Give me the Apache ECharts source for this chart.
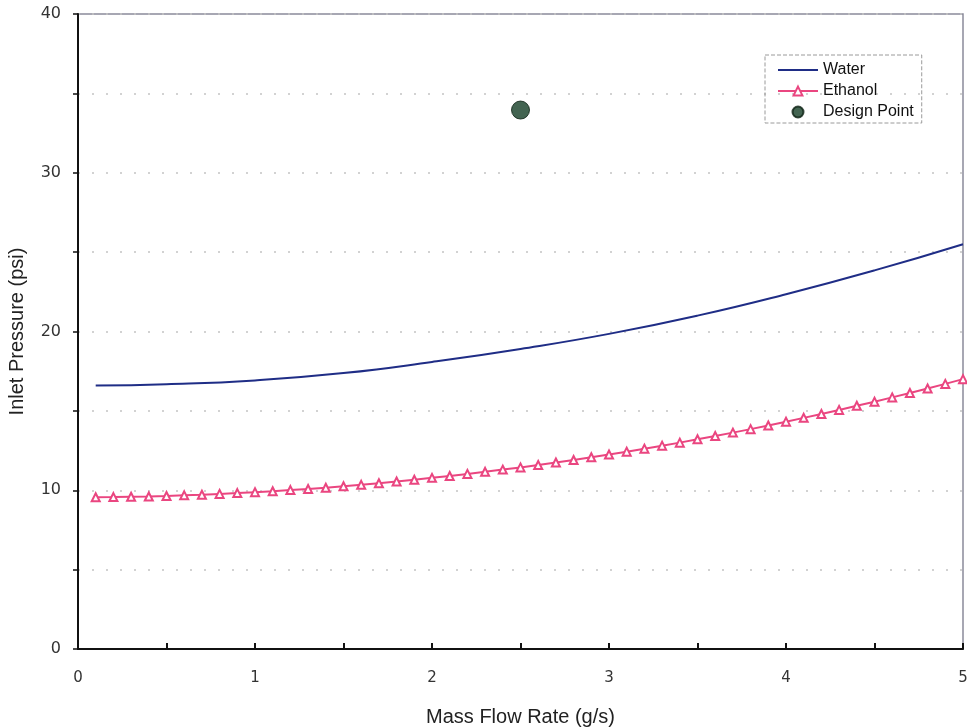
<!DOCTYPE html>
<html><head><meta charset="utf-8">
<script src="https://cdn.jsdelivr.net/npm/echarts@6/dist/echarts.min.js"></script>
<style>html,body{margin:0;padding:0;background:#fff}#c{width:967px;height:727px}</style>
</head><body><div id="c"></div>
<script>
var waterX = [0.1, 0.5, 1.0, 1.5, 2.0, 2.5, 3.0, 3.5, 4.0, 4.5, 5.0];
var waterY = [16.6, 16.68, 16.92, 17.38, 18.08, 18.9, 19.85, 21.0, 22.35, 23.85, 25.5];
var ethanolX = [0.1,0.2,0.3,0.4,0.5,0.6,0.7,0.8,0.9,1.0,1.1,1.2,1.3,1.4,1.5,1.6,1.7,1.8,1.9,2.0,2.1,2.2,2.3,2.4,2.5,2.6,2.7,2.8,2.9,3.0,3.1,3.2,3.3,3.4,3.5,3.6,3.7,3.8,3.9,4.0,4.1,4.2,4.3,4.4,4.5,4.6,4.7,4.8,4.9,5.0];
var ethanolY = [9.56,9.57,9.59,9.61,9.64,9.68,9.72,9.77,9.82,9.88,9.94,10.01,10.08,10.16,10.25,10.34,10.44,10.55,10.66,10.78,10.90,11.03,11.16,11.30,11.44,11.59,11.75,11.91,12.08,12.25,12.43,12.62,12.81,13.00,13.21,13.42,13.63,13.85,14.08,14.32,14.56,14.80,15.06,15.32,15.58,15.85,16.13,16.41,16.70,17.00];
var designX = [2.5];
var designY = [33.95];

function pairs(xs, ys){ return xs.map(function(x,i){ return [x, ys[i]]; }); }

var lineIcon = 'path://M0,0L40,0L40,0.01L0,0.01Z M0,4.5L40,4.5L40,6.5L0,6.5Z M0,10.99L40,10.99L40,11L0,11Z';

var chart = echarts.init(document.getElementById('c'));
chart.setOption({
  animation: false,
  backgroundColor: '#ffffff',
  grid: { left: 78, right: 4, top: 14, bottom: 78, outerBoundsMode: 'none', containLabel: false,
    show: true, borderColor: '#8a8a9a', borderWidth: 1.5, backgroundColor: 'transparent' },
  legend: {
    orient: 'vertical', left: 765, top: 55,
    borderColor: '#9a9a9a', borderWidth: 1, borderType: 'dashed',
    padding: [7, 8, 3, 12], itemGap: 5, itemWidth: 40, itemHeight: 11,
    textStyle: { fontFamily: 'Liberation Sans', fontSize: 16, color: '#111' },
    data: [{ name: 'Water', icon: lineIcon, itemStyle: { color: '#1f2d86', borderWidth: 0 } },
           'Ethanol', 'Design Point']
  },
  xAxis: {
    type: 'value', min: 0, max: 5, interval: 0.5,
    name: 'Mass Flow Rate (g/s)', nameLocation: 'middle', nameGap: 58,
    nameTextStyle: { fontFamily: 'Liberation Sans', fontSize: 20, color: '#222' },
    axisLine: { show: true, onZero: false, lineStyle: { color: '#111', width: 2 } },
    axisTick: { show: true, inside: true, length: 6, lineStyle: { color: '#111', width: 2 } },
    axisLabel: { margin: 22, fontFamily: 'DejaVu Sans', fontSize: 15, color: '#333',
      formatter: function(v){ return Math.abs(v - Math.round(v)) < 1e-9 ? String(Math.round(v)) : ''; } },
    splitLine: { show: false }
  },
  yAxis: {
    type: 'value', min: 0, max: 40, interval: 5,
    name: 'Inlet Pressure (psi)', nameLocation: 'middle', nameGap: 51,
    nameTextStyle: { fontFamily: 'Liberation Sans', fontSize: 20, color: '#222' },
    axisLine: { show: true, lineStyle: { color: '#111', width: 2 } },
    axisTick: { show: true, inside: false, length: 5, lineStyle: { color: '#111', width: 1.5 } },
    axisLabel: { margin: 17, fontFamily: 'DejaVu Sans', fontSize: 16, color: '#333',
      formatter: function(v){ return v % 10 === 0 ? String(v) : ''; } },
    splitLine: { show: true, lineStyle: { color: '#c4c4c4', type: [2, 12], width: 1.5 } }
  },
  series: [
    { name: 'Water', type: 'line', data: pairs(waterX, waterY), smooth: true, symbol: 'none',
      lineStyle: { color: '#1f2d86', width: 2 }, itemStyle: { color: '#1f2d86' } },
    { name: 'Ethanol', type: 'line', data: pairs(ethanolX, ethanolY), symbol: 'emptyTriangle', symbolSize: 8,
      lineStyle: { color: '#ea4680', width: 2 }, itemStyle: { color: '#ea4680', borderWidth: 1.8 } },
    { name: 'Design Point', type: 'scatter', data: pairs(designX, designY), symbol: 'circle', symbolSize: 18,
      itemStyle: { color: '#143d26', borderColor: '#0b1f12', borderWidth: 1 } }
  ]
});
</script></body></html>
